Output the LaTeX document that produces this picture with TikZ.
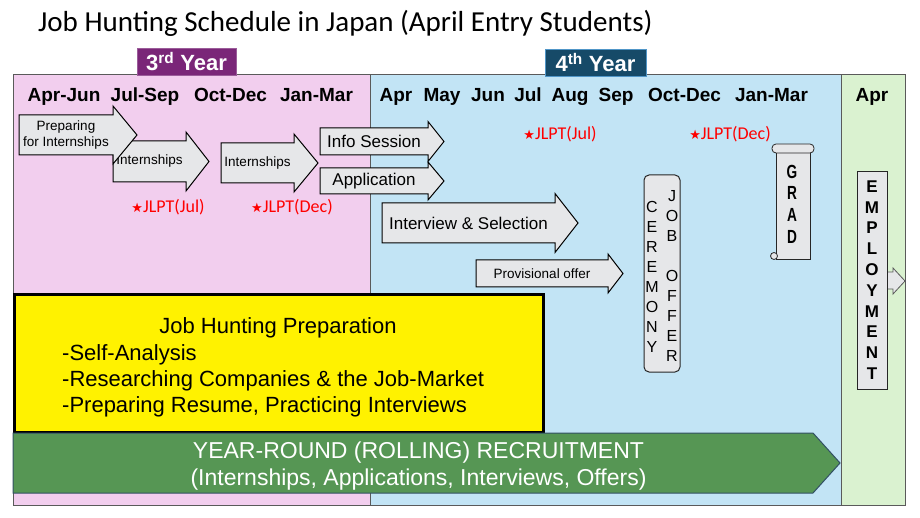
\documentclass[tikz,border=0pt]{standalone}
\usepackage{fontspec}
\setmainfont{Liberation Sans}
\newfontfamily\titlefont{Carlito}
\newfontfamily\starfont{DejaVu Sans}
\newfontfamily\gradfont[FakeStretch=0.72]{Liberation Sans}
\usetikzlibrary{positioning,calc}

\definecolor{pinkbg}{RGB}{242,206,238}
\definecolor{bluebg}{RGB}{194,228,245}
\definecolor{greenbg}{RGB}{218,242,208}
\definecolor{thirdpurple}{RGB}{122,38,120}
\definecolor{fourthteal}{RGB}{22,74,104}
\definecolor{fourthedge}{RGB}{80,150,200}
\definecolor{arrowgray}{RGB}{230,231,233}
\definecolor{rollgreen}{RGB}{86,150,84}
\definecolor{rolledge}{RGB}{50,80,100}
\definecolor{framegray}{RGB}{90,90,90}

% block arrow: name, left, head base, tip, top, bottom, head extend, text style, text
\newcommand{\blockarrow}[9]{%
  \draw[arrowbody] (#2,#5) -- (#3,#5) -- (#3,{#5-#7}) -- (#4,{(#5+#6)/2})
    -- (#3,{#6+#7}) -- (#3,#6) -- (#2,#6) -- cycle;
  \node[#8] (#1) at ({(#2+#3)/2},{(#5+#6)/2}) {#9};}

\begin{document}
\begin{tikzpicture}[
    x=1pt, y=-1pt,
    region/.style={draw=framegray, line width=1pt},
    yearlabel/.style={font=\fontsize{22}{26}\selectfont\bfseries, text=white,
        minimum height=27pt, inner sep=0pt},
    month/.style={font=\fontsize{19}{22}\selectfont\bfseries, anchor=base, inner sep=0pt},
    arrowbody/.style={draw=black, fill=arrowgray, line width=1pt},
    smalltxt/.style={font=\fontsize{13.5}{15.5}\selectfont, align=center, inner sep=0pt},
    bigtxt/.style={font=\fontsize{17}{20}\selectfont, align=center, inner sep=0pt},
    jlpt/.style={text=red, font=\titlefont\fontsize{18}{20}\selectfont, anchor=base, inner sep=0pt},
    tallbox/.style={draw=black!85, fill=arrowgray, line width=1pt},
    letters/.style={align=center, inner sep=0pt},
    prepline/.style={anchor=base west, inner sep=0pt, font=\fontsize{22}{26}\selectfont},
    rollline/.style={anchor=base, inner sep=0pt, text=white, font=\fontsize{23}{27}\selectfont}
]
\useasboundingbox (0,0) rectangle (920,518);

% background columns
\fill[pinkbg] (13,75) rectangle (370,505);
\fill[bluebg] (370,75) rectangle (841,505);
\fill[greenbg] (841,75) rectangle (905,505);
\draw[region] (13,75) rectangle (905,505);
\draw[region] (370,75) -- (370,505);
\draw[region] (841,75) -- (841,505);

\node[anchor=base west, inner sep=0pt, font=\titlefont\fontsize{29}{34}\selectfont]
    (title) at (38,32) {Job Hunting Schedule in Japan (April Entry Students)};

\node[yearlabel, fill=thirdpurple, draw=thirdpurple!75!white, minimum width=99pt]
    (third) at (186.5,61.5) {3\textsuperscript{rd} Year};
\node[yearlabel, fill=fourthteal, draw=fourthedge, minimum width=101pt]
    (fourth) at (595.5,62.5) {4\textsuperscript{th} Year};

% months
\node[month] (aprjun) at (64,102) {Apr-Jun};
\node[month] (julsep) at (145,102) {Jul-Sep};
\node[month] (octdec) at (230.5,102) {Oct-Dec};
\node[month] (janmar) at (316.5,102) {Jan-Mar};
\node[month] (apr) at (396,102) {Apr};
\node[month] (may) at (442,102) {May};
\node[month] (jun) at (488,102) {Jun};
\node[month] (jul) at (528,102) {Jul};
\node[month] (aug) at (570,102) {Aug};
\node[month] (sep) at (616,102) {Sep};
\node[month] (octdec4) at (684.5,102) {Oct-Dec};
\node[month] (janmar4) at (771.5,102) {Jan-Mar};
\node[month] (aprnext) at (872,102) {Apr};

% steps
\blockarrow{intern1}{113}{186}{209}{141}{182}{9}{smalltxt}{Internships}
\blockarrow{prepintern}{19}{113}{137}{115}{155}{9}{smalltxt}{Preparing\\for Internships}
\blockarrow{intern2}{221}{294}{318}{143}{183}{9}{smalltxt}{Internships}
\blockarrow{info}{320}{428}{444}{128}{155}{6.5}{bigtxt}{Info Session}
\blockarrow{apply}{320}{428}{444}{168}{194}{6}{bigtxt}{Application}
\blockarrow{interview}{382}{555}{578}{203}{243}{9.5}{bigtxt}{Interview \& Selection}
\blockarrow{offer}{476}{608}{623}{260}{287}{6}{smalltxt}{Provisional offer}

\node[jlpt] (jlpt1) at (168,213) {{\starfont\fontsize{13}{15}\selectfont ★}JLPT(Jul)};
\node[jlpt] (jlpt2) at (292,213) {{\starfont\fontsize{13}{15}\selectfont ★}JLPT(Dec)};
\node[jlpt] (jlpt3) at (560,140) {{\starfont\fontsize{13}{15}\selectfont ★}JLPT(Jul)};
\node[jlpt] (jlpt4) at (730,140) {{\starfont\fontsize{13}{15}\selectfont ★}JLPT(Dec)};

% ceremony
\draw[tallbox, rounded corners=5pt] (644,175) rectangle (680,372);
\node[letters, font=\fontsize{16}{20}\selectfont] (ceremony) at (652,276.5)
    {C\\E\\R\\E\\M\\O\\N\\Y};
\node[letters, font=\fontsize{16}{20}\selectfont] (joboffer) at (672,276)
    {J\\O\\B\\[20pt]O\\F\\F\\E\\R};

% grad scroll
\draw[tallbox, line width=0.8pt] (776,149) rectangle (810,259);
\draw[tallbox, line width=0.8pt, rounded corners=4pt] (772,144) rectangle (814,153);
\draw[tallbox, line width=0.8pt] (774,256) circle (3.5pt);
\node[letters, font=\gradfont\fontsize{19}{21.7}\selectfont\bfseries] (grad) at (792,204)
    {G\\R\\A\\D};

% employment
\draw[draw=framegray, fill=arrowgray, line width=0.8pt] (887,272) -- (893,272) -- (893,268)
    -- (905,281) -- (893,294) -- (893,289) -- (887,289);
\draw[tallbox] (857,172) rectangle (887,389);
\node[letters, font=\fontsize{17}{20.8}\selectfont\bfseries] (employ) at (872,280)
    {E\\M\\P\\L\\O\\Y\\M\\E\\N\\T};

% preparation box
\draw[fill=yellow, line width=3pt] (14,295) rectangle (543,432);
\node[prepline, anchor=base] (prephead) at (278,333) {Job Hunting Preparation};
\node[prepline] (prep1) at (62,360) {-Self-Analysis};
\node[prepline] (prep2) at (62,386) {-Researching Companies \& the Job-Market};
\node[prepline] (prep3) at (62,412) {-Preparing Resume, Practicing Interviews};

% rolling recruitment
\draw[fill=rollgreen, draw=rolledge, line width=1pt] (13,433) -- (813,433) -- (840,463)
    -- (813,493) -- (13,493) -- cycle;
\node[rollline] (rolling) at (418.5,458) {YEAR-ROUND (ROLLING) RECRUITMENT};
\node[rollline] (rollingsub) at (418.5,485) {(Internships, Applications, Interviews, Offers)};

\end{tikzpicture}
\end{document}
